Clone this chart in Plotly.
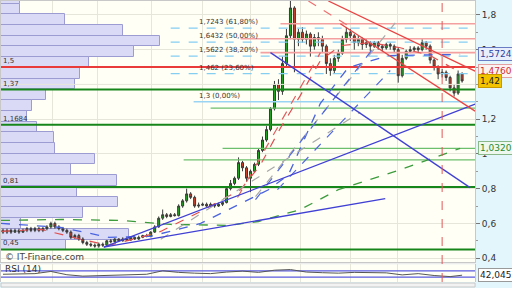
import plotly.graph_objects as go

# ---------------- data ----------------
bar_idx = list(range(116))
opens = [0.56,0.55,0.56,0.55,0.56,0.55,0.56,0.57,0.56,0.57,0.56,0.57,0.58,0.60,0.58,0.57,0.56,0.55,0.52,0.53,
         0.51,0.49,0.48,0.475,0.47,0.48,0.475,0.50,0.495,0.51,0.50,0.51,0.505,0.52,0.51,0.52,0.53,0.525,0.55,0.58,
         0.63,0.65,0.64,0.65,0.645,0.70,0.73,0.77,0.75,0.70,0.705,0.71,0.70,0.71,0.70,0.71,0.72,0.80,0.83,0.86,
         0.95,0.92,0.86,0.90,0.94,1.02,1.08,1.14,1.26,1.40,1.36,1.52,1.68,1.84,1.66,1.70,1.66,1.69,1.62,1.67,
         1.66,1.62,1.52,1.48,1.55,1.58,1.66,1.70,1.68,1.64,1.66,1.63,1.64,1.62,1.64,1.62,1.61,1.63,1.62,1.60,
         1.45,1.55,1.59,1.60,1.61,1.60,1.64,1.62,1.54,1.50,1.46,1.47,1.44,1.38,1.35,1.46]
closes = [0.55,0.56,0.55,0.56,0.55,0.56,0.57,0.56,0.57,0.56,0.57,0.58,0.60,0.58,0.57,0.56,0.55,0.52,0.53,0.51,
          0.49,0.48,0.475,0.47,0.48,0.475,0.50,0.495,0.51,0.50,0.51,0.505,0.52,0.51,0.52,0.53,0.525,0.55,0.58,0.63,
          0.65,0.64,0.65,0.645,0.70,0.73,0.77,0.75,0.70,0.705,0.71,0.70,0.71,0.70,0.71,0.72,0.80,0.83,0.86,0.95,
          0.92,0.86,0.90,0.94,1.02,1.08,1.14,1.26,1.40,1.36,1.52,1.68,1.84,1.66,1.70,1.66,1.69,1.62,1.67,1.66,
          1.62,1.52,1.48,1.55,1.58,1.66,1.70,1.68,1.64,1.66,1.63,1.64,1.62,1.64,1.62,1.61,1.63,1.62,1.60,1.45,
          1.55,1.59,1.60,1.61,1.60,1.64,1.62,1.54,1.50,1.46,1.47,1.44,1.38,1.35,1.46,1.42]
highs = [0.57,0.57,0.57,0.57,0.57,0.57,0.58,0.58,0.58,0.58,0.58,0.59,0.61,0.61,0.59,0.58,0.57,0.56,0.54,0.54,
         0.52,0.50,0.49,0.485,0.49,0.49,0.505,0.51,0.515,0.515,0.52,0.52,0.525,0.525,0.53,0.535,0.54,0.555,0.59,0.64,
         0.68,0.66,0.66,0.66,0.71,0.74,0.80,0.78,0.76,0.72,0.72,0.72,0.72,0.715,0.72,0.73,0.81,0.85,0.87,0.98,
         0.96,0.93,0.91,0.95,1.03,1.10,1.16,1.27,1.42,1.43,1.56,1.72,1.88,1.85,1.72,1.73,1.71,1.70,1.69,1.70,
         1.68,1.63,1.55,1.57,1.60,1.68,1.73,1.72,1.69,1.68,1.67,1.66,1.65,1.65,1.65,1.63,1.64,1.64,1.63,1.61,
         1.57,1.60,1.62,1.62,1.62,1.66,1.65,1.63,1.55,1.51,1.49,1.48,1.45,1.40,1.48,1.47]
lows = [0.54,0.54,0.54,0.545,0.54,0.545,0.55,0.55,0.55,0.55,0.55,0.56,0.57,0.57,0.56,0.55,0.54,0.51,0.51,0.50,
        0.48,0.47,0.465,0.46,0.46,0.465,0.47,0.485,0.49,0.495,0.495,0.50,0.50,0.505,0.505,0.515,0.52,0.52,0.545,0.575,
        0.62,0.63,0.635,0.64,0.64,0.69,0.72,0.74,0.69,0.69,0.70,0.695,0.695,0.69,0.695,0.70,0.715,0.79,0.82,0.85,
        0.90,0.84,0.78,0.89,0.93,1.01,1.07,1.13,1.25,1.31,1.34,1.50,1.66,1.47,1.62,1.64,1.63,1.56,1.60,1.62,
        1.58,1.46,1.45,1.46,1.53,1.57,1.64,1.65,1.60,1.62,1.60,1.61,1.59,1.61,1.60,1.59,1.60,1.60,1.58,1.41,
        1.44,1.54,1.58,1.59,1.58,1.59,1.60,1.52,1.48,1.43,1.44,1.42,1.36,1.33,1.34,1.41]

# volume profile (price bin centres, relative volume)
vp_price = [1.8960,1.8343,1.7726,1.7109,1.6492,1.5874,1.5257,1.4640,1.4023,1.3406,1.2789,1.2171,
            1.1554,1.0937,1.0320,0.9703,0.9086,0.8469,0.7851,0.7234,0.6617,0.6000,0.5383,0.4766]
vp_volume = [4.75,4.75,16.0,30.5,39.75,33.25,22.0,19.75,18.5,11.25,7.75,6.5,
             9.0,13.25,13.5,23.5,17.5,29.0,19.0,29.25,20.5,5.0,32.0,16.25]
vp_bin = 0.0617

# horizontal levels
red_level = 1.5
green_levels = [1.37, 1.1684, 0.81, 0.45]
green_labels = ["1,37", "1,1684", "0,81", "0,45"]
thin_green_levels = [1.263, 1.032, 0.966]
thin_green_start = [52.0, 55.0, 45.25]
fib_levels = [1.7243, 1.6432, 1.5622, 1.462, 1.3]
fib_labels = ["1,7243 (61,80%)", "1,6432 (50,00%)", "1,5622 (38,20%)", "1,462 (23,60%)", "1,3 (0,00%)"]
pink_levels = [1.749, 1.663, 1.583]
pink_start = [69.5, 59.5, 64.5]

# trend lines: (x0, y0, x1, y1) in bar index / price
blue_lines = [(67.0, 1.583, 117.0, 0.806), (25.25, 0.463, 118.25, 1.286), (25.25, 0.463, 95.75, 0.743)]
red_lines = [(81.5, 1.88, 118.25, 1.476), (84.5, 1.749, 118.25, 1.246)]
pink_dash_lines = [(76.5, 1.88, 87.0, 1.731)]
fan_lines = [((58.75, 0.749, 79.5, 1.583), "#e06060"),
             ((39.5, 0.509, 89.5, 1.24), "#a8a8a8"),
             ((63.25, 0.754, 98.25, 1.754), "#a8a8a8"),
             ((63.25, 0.737, 93.25, 1.623), "#5068e0"),
             ((68.75, 0.794, 97.0, 1.48), "#5068e0")]

# moving averages
ma_red_x = [-0.5, 9.5, 19.5, 26.5, 34.5, 39.5, 49.5, 59.5, 64.5, 69.5, 74.5, 79.5, 84.5, 92, 99.5, 107, 114.5]
ma_red_y = [0.554, 0.566, 0.509, 0.474, 0.52, 0.554, 0.669, 0.794, 0.937, 1.149, 1.337, 1.537, 1.623, 1.64, 1.611, 1.566, 1.469]
ma_blue_x = [-0.5, 14.5, 26.5, 37, 49.5, 61.5, 66.5, 71.5, 79.5, 86.5, 96.5, 114.5]
ma_blue_y = [0.6, 0.577, 0.52, 0.526, 0.6, 0.737, 0.794, 0.88, 1.291, 1.497, 1.566, 1.5724]
ma_green_x = [-0.5, 14.5, 29.5, 42, 56.5, 64, 74.5, 84, 99.5, 114.5]
ma_green_y = [0.617, 0.623, 0.617, 0.594, 0.589, 0.611, 0.68, 0.794, 0.909, 1.032]

rsi_x = [0,4,8,12,16,20,24,28,32,36,40,44,48,52,56,60,64,68,72,76,80,84,88,92,96,100,104,108,112,115]
rsi_y = [48,50,52,66,45,36,38,40,42,48,70,60,55,52,62,68,60,74,78,62,58,55,60,58,57,44,52,40,33,42]

xgrid = [12.5, 23.75, 37.25, 50, 62, 74.5, 87, 98.75]
vline_x = 110.0
y_ticks = [0.4, 0.6, 0.8, 1.0, 1.2, 1.6, 1.8]
y_ticktext = ["0,4", "0,6", "0,8", "1", "1,2", "1,6", "1,8"]
y_grid = [0.4, 0.6, 0.8, 1.0, 1.2, 1.4, 1.6, 1.8]

X0, X1 = -0.5, 118.25
FONT = "DejaVu Sans"

fig = go.Figure()

# volume profile
fig.add_trace(go.Bar(y=vp_price, x=vp_volume, base=X0, orientation="h", width=vp_bin,
                     marker=dict(color="#dadaf7", line=dict(color="#9c9cd2", width=1)),
                     hoverinfo="skip", showlegend=False))

def hline(y, x0, x1, color, width, dash="solid", yaxis="y"):
    fig.add_trace(go.Scatter(x=[x0, x1], y=[y, y], mode="lines", yaxis=yaxis,
                             line=dict(color=color, width=width, dash=dash),
                             hoverinfo="skip", showlegend=False))

def seg(s, color, width, dash="solid"):
    fig.add_trace(go.Scatter(x=[s[0], s[2]], y=[s[1], s[3]], mode="lines",
                             line=dict(color=color, width=width, dash=dash),
                             hoverinfo="skip", showlegend=False))

# 1.4 grid line (its tick label is hidden behind the value boxes)
hline(1.4, X0, X1, "#e6e6da", 1)
for lv in fib_levels[:-1]:
    hline(lv, 42.0, X1, "#86cdf2", 1.2, "dash")
hline(fib_levels[-1], 47.75, X1, "#9ad4f4", 1.4)
for lv, st in zip(pink_levels, pink_start):
    hline(lv, st, X1, "#f4a0a0", 1.6)
for lv, st in zip(thin_green_levels, thin_green_start):
    hline(lv, st, X1, "#6cbf6c", 1.3)
hline(red_level, X0, X1, "#ea3b3b", 2)
for lv in green_levels:
    hline(lv, X0, X1, "#17861a", 2)

# moving averages
fig.add_trace(go.Scatter(x=ma_green_x, y=ma_green_y, mode="lines", line=dict(color="#3c9c3c", width=1.3, dash="dash"),
                         hoverinfo="skip", showlegend=False))
fig.add_trace(go.Scatter(x=ma_blue_x, y=ma_blue_y, mode="lines", line=dict(color="#4a64e0", width=1.3, dash="dash"),
                         hoverinfo="skip", showlegend=False))
fig.add_trace(go.Scatter(x=ma_red_x, y=ma_red_y, mode="lines", line=dict(color="#e05050", width=1.2, dash="dash"),
                         hoverinfo="skip", showlegend=False))

for s, c in fan_lines:
    seg(s, c, 1.2, "dash")
for s in blue_lines:
    seg(s, "#4040d4", 1.3)
for s in red_lines:
    seg(s, "#e84444", 1.3)
for s in pink_dash_lines:
    seg(s, "#f07070", 1.2, "dash")

# candles
fig.add_trace(go.Candlestick(x=bar_idx, open=opens, high=highs, low=lows, close=closes,
                             increasing=dict(fillcolor="#22a822", line=dict(color="#3a3a3a", width=1)),
                             decreasing=dict(fillcolor="#d0402a", line=dict(color="#3a3a3a", width=1)),
                             whiskerwidth=0, hoverinfo="skip", showlegend=False))

# RSI
hline(70, X0, X1, "#5a5ae0", 1.2, yaxis="y2")
hline(30, X0, X1, "#5a5ae0", 1.2, yaxis="y2")
fig.add_trace(go.Scatter(x=rsi_x, y=rsi_y, yaxis="y2", mode="lines", line=dict(color="#555555", width=1),
                         hoverinfo="skip", showlegend=False))

XD = 475 / 512
main_bot = 1 - 263 / 288
fig.update_layout(
    width=512, height=288, margin=dict(l=0, r=0, t=0, b=0),
    paper_bgcolor="#e2f6fb", plot_bgcolor="#fffff6",
    font=dict(family=FONT, size=8, color="#333333"),
    showlegend=False, bargap=0,
    xaxis=dict(domain=[0, XD], range=[X0, X1], tickvals=xgrid, showticklabels=False, ticks="",
               showgrid=True, gridcolor="#e6e6da", gridwidth=1, zeroline=False,
               rangeslider=dict(visible=False), showline=True, linecolor="#c8c8c8", mirror=True),
    yaxis=dict(domain=[main_bot, 1], range=[0.377, 1.88], side="right", tickvals=y_ticks, ticktext=y_ticktext,
               ticks="outside", ticklen=4, tickcolor="#777777", showgrid=True, gridcolor="#e6e6da",
               zeroline=False, tickfont=dict(size=9, color="#333333"),
               minor=dict(dtick=0.1, ticks="outside", ticklen=2, tickcolor="#999999", showgrid=False),
               showline=True, linecolor="#c8c8c8", mirror=True),
    yaxis2=dict(domain=[1 - 283 / 288, 1 - 265 / 288], range=[-1.7, 112.5], anchor="x", side="right",
                showticklabels=False, ticks="", showgrid=False, zeroline=False,
                showline=True, linecolor="#c8c8c8", mirror=True),
)

shapes = []
shapes.append(dict(type="rect", xref="paper", yref="paper", x0=0, x1=XD, y0=1 - 265 / 288, y1=main_bot,
                   fillcolor="#ececec", line=dict(width=0), layer="below"))
shapes.append(dict(type="rect", xref="paper", yref="paper", x0=0, x1=XD, y0=0, y1=1 - 284 / 288,
                   fillcolor="#f2f2f2", line=dict(color="#c8c8c8", width=1), layer="below"))
shapes.append(dict(type="line", xref="x", yref="paper", x0=vline_x, x1=vline_x, y0=1 - 283 / 288, y1=1,
                   line=dict(color="#e05858", width=1, dash="dash")))
fig.update_layout(shapes=shapes)

ann = []
ann.append(dict(text="1,5", x=X0, y=red_level, xref="x", yref="y", xanchor="left", yanchor="bottom",
                showarrow=False, font=dict(size=7, color="#333")))
for lv, lb in zip(green_levels, green_labels):
    ann.append(dict(text=lb, x=X0, y=lv, xref="x", yref="y", xanchor="left", yanchor="bottom",
                    showarrow=False, font=dict(size=7, color="#333")))
for lv, lb in zip(fib_levels, fib_labels):
    ann.append(dict(text=lb, x=48.5, y=lv, xref="x", yref="y", xanchor="left", yanchor="bottom",
                    showarrow=False, font=dict(size=7, color="#333")))
ax = XD + 3 / 512
ann.append(dict(text="1,5724", x=ax, y=1.5724, xref="paper", yref="y", xanchor="left", yanchor="middle",
                showarrow=False, bgcolor="#e8eefc", bordercolor="#6a7cc4", borderwidth=1, borderpad=1,
                font=dict(size=9, color="#3040a0")))
ann.append(dict(text="1,4760", x=ax, y=1.476, xref="paper", yref="y", xanchor="left", yanchor="middle",
                showarrow=False, bgcolor="#fdf2f2", bordercolor="#e4a0a0", borderwidth=1, borderpad=1,
                font=dict(size=9, color="#d03030")))
ann.append(dict(text="1,42", x=ax, y=1.42, xref="paper", yref="y", xanchor="left", yanchor="middle",
                showarrow=False, bgcolor="#f2c400", bordercolor="#c89a00", borderwidth=1, borderpad=1,
                font=dict(size=9, color="#222")))
ann.append(dict(text="1,0320", x=ax, y=1.032, xref="paper", yref="y", xanchor="left", yanchor="middle",
                showarrow=False, bgcolor="#eef8ee", bordercolor="#8ab88a", borderwidth=1, borderpad=1,
                font=dict(size=9, color="#2a8a2a")))
ann.append(dict(text="42,045", x=ax, y=42.045, xref="paper", yref="y2", xanchor="left", yanchor="middle",
                showarrow=False, bgcolor="#ffffff", bordercolor="#999999", borderwidth=1, borderpad=1,
                font=dict(size=9, color="#222")))
ann.append(dict(text="© IT-Finance.com", x=2 / 512, y=1 - 258 / 288, xref="paper", yref="paper",
                xanchor="left", yanchor="middle", showarrow=False, font=dict(size=9, color="#444")))
ann.append(dict(text="RSI (14)", x=2 / 512, y=1 - 270 / 288, xref="paper", yref="paper",
                xanchor="left", yanchor="middle", showarrow=False, font=dict(size=9, color="#333")))
fig.update_layout(annotations=ann)

fig.write_html("out.html")
